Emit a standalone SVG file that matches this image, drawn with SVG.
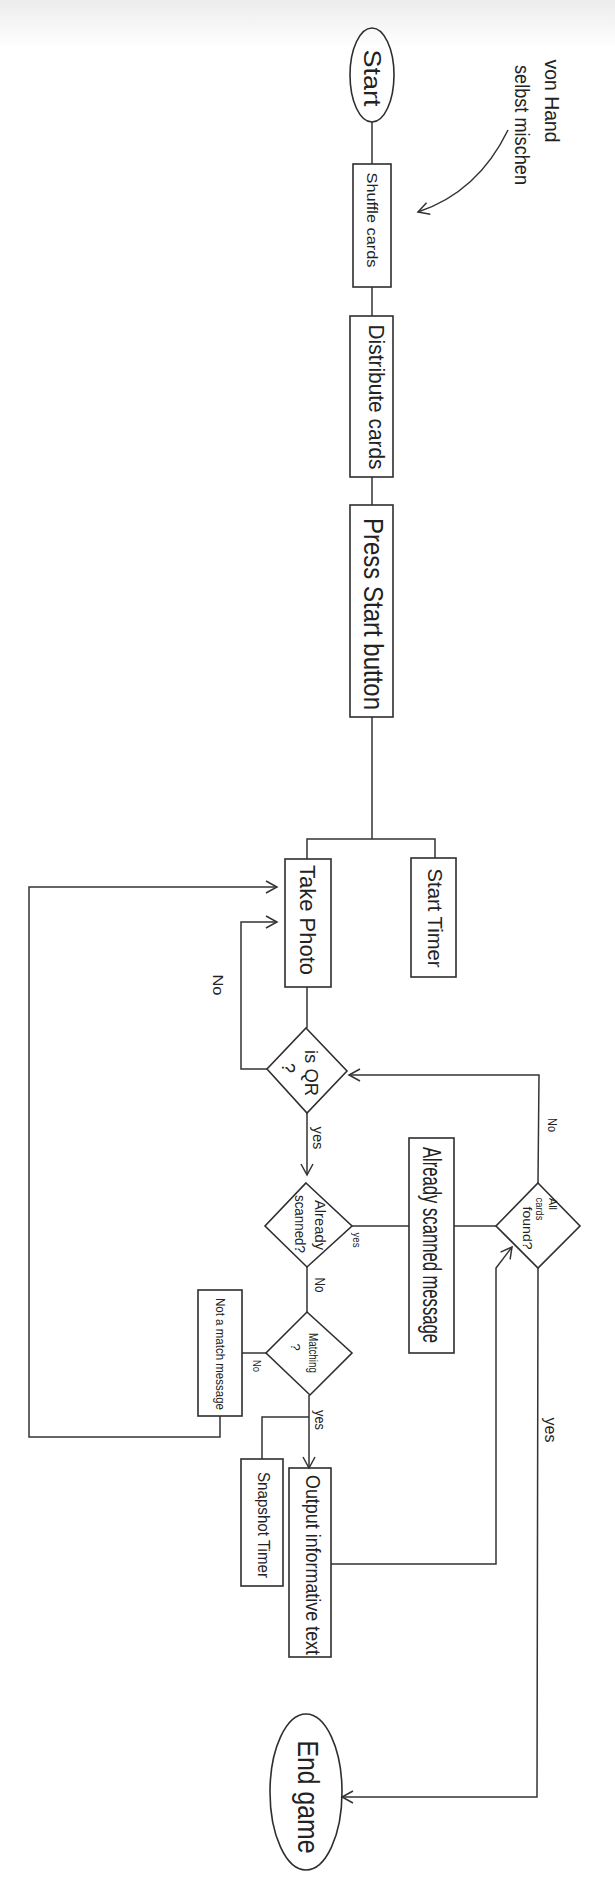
<svg xmlns="http://www.w3.org/2000/svg" width="615" height="1877" viewBox="0 0 615 1877">
<style>
.n{fill:none;stroke:#2e2e2e;stroke-width:1.6}
.c{fill:none;stroke:#333;stroke-width:1.5}
text{font-family:"Liberation Sans Narrow","Liberation Sans",sans-serif;fill:#222;text-anchor:middle;dominant-baseline:central;font-weight:300}
</style>
<defs>
<linearGradient id="top" x1="0" y1="0" x2="0" y2="1">
<stop offset="0" stop-color="#ececec"/>
<stop offset="1" stop-color="#ffffff"/>
</linearGradient>
<marker id="ah" markerUnits="userSpaceOnUse" markerWidth="16" markerHeight="16" refX="12" refY="7" orient="auto">
<path d="M1,1 L12,7 L1,13" fill="none" stroke="#333" stroke-width="1.5"/>
</marker>
</defs>
<rect width="615" height="1877" fill="#fff"/>
<rect width="615" height="48" fill="url(#top)"/>

<g id="connectors">
<line class="c" x1="372" y1="122" x2="372" y2="164"/>
<line class="c" x1="372" y1="287" x2="372" y2="316"/>
<line class="c" x1="372" y1="477" x2="372" y2="505"/>
<line class="c" x1="372" y1="717" x2="372" y2="839"/>
<polyline class="c" points="307,859 307,839 435,839 435,858"/>
<line class="c" x1="307" y1="987" x2="307" y2="1028"/>
<polyline class="c" points="267,1069 241,1069 241,922 277,922" marker-end="url(#ah)"/>
<polyline class="c" points="220,1416 220,1437 29,1437 29,887 277,887" marker-end="url(#ah)"/>
<line class="c" x1="307" y1="1113" x2="307" y2="1175" marker-end="url(#ah)"/>
<line class="c" x1="352" y1="1226" x2="409" y2="1226"/>
<line class="c" x1="454" y1="1226" x2="496" y2="1226"/>
<polyline class="c" points="538,1183 539,1075 349,1075" marker-end="url(#ah)"/>
<line class="c" x1="307" y1="1267" x2="307" y2="1312"/>
<line class="c" x1="266" y1="1353" x2="242" y2="1353"/>
<line class="c" x1="309" y1="1395" x2="309" y2="1468" marker-end="url(#ah)"/>
<polyline class="c" points="309,1417 262,1417 262,1459"/>
<polyline class="c" points="331,1564 496,1564 496,1268 512,1247" marker-end="url(#ah)"/>
<polyline class="c" points="538,1268 537,1797 342,1797" marker-end="url(#ah)"/>
<path class="c" d="M508,130 Q478,192 418,212" marker-end="url(#ah)"/>
</g>

<g id="start"><ellipse class="n" cx="372" cy="75" rx="22" ry="47"/><text transform="translate(372 78) rotate(90)" font-size="24" textLength="57" lengthAdjust="spacingAndGlyphs">Start</text></g>
<g id="note"><text transform="translate(552 101) rotate(90)" font-size="20" textLength="83" lengthAdjust="spacingAndGlyphs">von Hand</text><text transform="translate(522 125) rotate(90)" font-size="20" textLength="120" lengthAdjust="spacingAndGlyphs">selbst mischen</text></g>
<g id="shuffle"><rect class="n" x="353" y="164" width="38" height="123"/><text transform="translate(372 220) rotate(90)" font-size="15" textLength="95" lengthAdjust="spacingAndGlyphs">Shuffle cards</text></g>
<g id="distribute"><rect class="n" x="350" y="316" width="43" height="161"/><text transform="translate(376 397) rotate(90)" font-size="22" textLength="145" lengthAdjust="spacingAndGlyphs">Distribute cards</text></g>
<g id="press"><rect class="n" x="350" y="505" width="43" height="212"/><text transform="translate(373 614) rotate(90)" font-size="28" textLength="192" lengthAdjust="spacingAndGlyphs">Press Start button</text></g>
<g id="takephoto"><rect class="n" x="285" y="859" width="46" height="128"/><text transform="translate(307 920) rotate(90)" font-size="22" textLength="110" lengthAdjust="spacingAndGlyphs">Take Photo</text></g>
<g id="starttimer"><rect class="n" x="411" y="858" width="45" height="119"/><text transform="translate(435 918) rotate(90)" font-size="20" textLength="99" lengthAdjust="spacingAndGlyphs">Start Timer</text></g>
<g id="isqr"><polygon class="n" points="306,1028 347,1071 307,1113 267,1069"/><text transform="translate(311 1073) rotate(90)" font-size="18" textLength="46" lengthAdjust="spacingAndGlyphs">is QR</text><text transform="translate(288 1068) rotate(90)" font-size="18">?</text></g>
<g id="alreadyscanned"><polygon class="n" points="306,1183 352,1226 307,1267 265,1226"/><text transform="translate(320 1225) rotate(90)" font-size="15" textLength="50" lengthAdjust="spacingAndGlyphs">Already</text><text transform="translate(300 1224) rotate(90)" font-size="15" textLength="58" lengthAdjust="spacingAndGlyphs">scanned?</text></g>
<g id="alreadymsg"><rect class="n" x="409" y="1138" width="45" height="215"/><text transform="translate(432 1245) rotate(90)" font-size="26" textLength="196" lengthAdjust="spacingAndGlyphs">Already scanned message</text></g>
<g id="allcards"><polygon class="n" points="538,1183 580,1226 538,1268 496,1226"/><text transform="translate(553 1204) rotate(90)" font-size="11" textLength="12" lengthAdjust="spacingAndGlyphs">All</text><text transform="translate(540 1209) rotate(90)" font-size="11" textLength="23" lengthAdjust="spacingAndGlyphs">cards</text><text transform="translate(527 1228) rotate(90)" font-size="12" textLength="43" lengthAdjust="spacingAndGlyphs">found?</text></g>
<g id="matching"><polygon class="n" points="307,1312 352,1353 310,1395 266,1353"/><text transform="translate(313 1353) rotate(90)" font-size="12" textLength="40" lengthAdjust="spacingAndGlyphs">Matching</text><text transform="translate(295 1347) rotate(90)" font-size="13">?</text></g>
<g id="notmatch"><rect class="n" x="198" y="1290" width="44" height="126"/><text transform="translate(220 1354) rotate(90)" font-size="12" textLength="112" lengthAdjust="spacingAndGlyphs">Not a match message</text></g>
<g id="snapshot"><rect class="n" x="241" y="1459" width="42" height="127"/><text transform="translate(263 1525) rotate(90)" font-size="17" textLength="106" lengthAdjust="spacingAndGlyphs">Snapshot Timer</text></g>
<g id="output"><rect class="n" x="289" y="1468" width="42" height="189"/><text transform="translate(313 1565) rotate(90)" font-size="20" textLength="180" lengthAdjust="spacingAndGlyphs">Output informative text</text></g>
<g id="endgame"><ellipse class="n" cx="306" cy="1792" rx="36" ry="78"/><text transform="translate(308 1797) rotate(90)" font-size="30" textLength="113" lengthAdjust="spacingAndGlyphs">End game</text></g>

<g id="labels">
<text transform="translate(218 985) rotate(90)" font-size="15" textLength="21" lengthAdjust="spacingAndGlyphs">No</text>
<text transform="translate(318 1138) rotate(90)" font-size="15" textLength="23" lengthAdjust="spacingAndGlyphs">yes</text>
<text transform="translate(357 1240) rotate(90)" font-size="11" textLength="15" lengthAdjust="spacingAndGlyphs">yes</text>
<text transform="translate(552 1125) rotate(90)" font-size="13" textLength="14" lengthAdjust="spacingAndGlyphs">No</text>
<text transform="translate(320 1285) rotate(90)" font-size="15" textLength="15" lengthAdjust="spacingAndGlyphs">No</text>
<text transform="translate(256 1366) rotate(90)" font-size="10" textLength="12" lengthAdjust="spacingAndGlyphs">No</text>
<text transform="translate(320 1420) rotate(90)" font-size="15" textLength="20" lengthAdjust="spacingAndGlyphs">yes</text>
<text transform="translate(550 1430) rotate(90)" font-size="16" textLength="25" lengthAdjust="spacingAndGlyphs">yes</text>
</g>
</svg>
